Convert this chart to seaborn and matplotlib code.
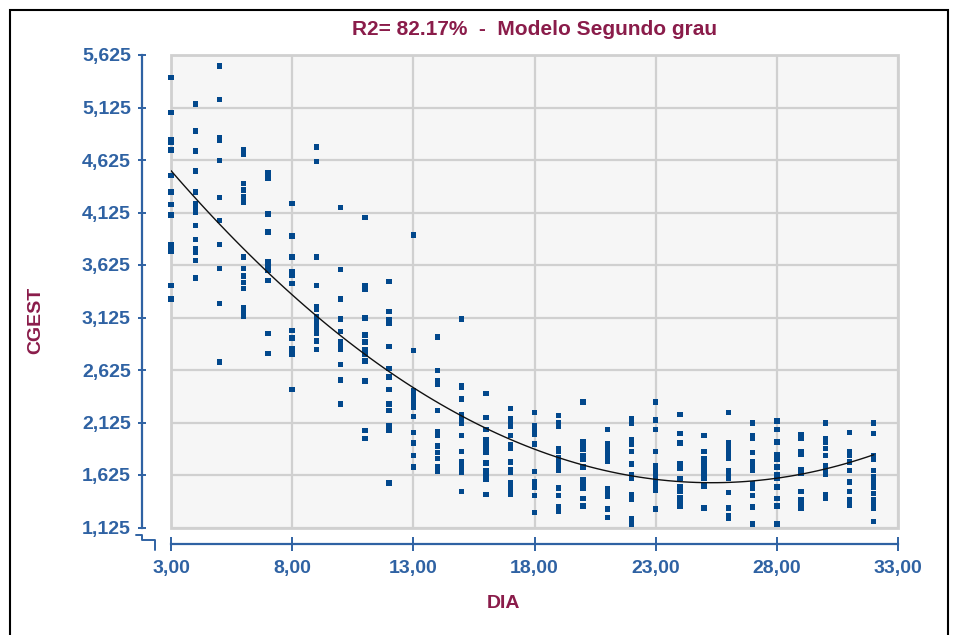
import numpy as np
import pandas as pd
import matplotlib
matplotlib.use("Agg")
import matplotlib.pyplot as plt
from matplotlib.lines import Line2D
from matplotlib.patches import Rectangle
import seaborn as sns

# ---------------- data ----------------
title_text = "R2= 82.17%  -  Modelo Segundo grau"
x_label = "DIA"
y_label = "CGEST"

x_ticks = [3, 8, 13, 18, 23, 28, 33]
x_tick_labels = ["3,00", "8,00", "13,00", "18,00", "23,00", "28,00", "33,00"]
y_ticks = [1.125, 1.625, 2.125, 2.625, 3.125, 3.625, 4.125, 4.625, 5.125, 5.625]
y_tick_labels = ["1,125", "1,625", "2,125", "2,625", "3,125", "3,625",
                 "4,125", "4,625", "5,125", "5,625"]

cgest_d03 = [5.41, 5.08, 4.82, 4.79, 4.72, 4.48, 4.32, 4.20, 4.10, 3.82, 3.79, 3.76, 3.43, 3.30]
cgest_d04 = [5.16, 4.90, 4.71, 4.52, 4.32, 4.21, 4.17, 4.13, 4.00, 3.87, 3.78, 3.75, 3.67, 3.50]
cgest_d05 = [5.52, 5.20, 4.84, 4.81, 4.62, 4.27, 4.05, 3.82, 3.59, 3.26, 2.70]
cgest_d06 = [4.72, 4.68, 4.40, 4.34, 4.28, 4.24, 4.22, 3.70, 3.59, 3.52, 3.46, 3.40, 3.22, 3.19, 3.14]
cgest_d07 = [4.50, 4.47, 4.45, 4.11, 3.94, 3.66, 3.63, 3.59, 3.57, 3.48, 2.97, 2.78]
cgest_d08 = [4.21, 3.90, 3.70, 3.56, 3.53, 3.45, 3.00, 2.93, 2.83, 2.80, 2.77, 2.44]
cgest_d09 = [4.75, 4.61, 3.70, 3.43, 3.23, 3.20, 3.13, 3.10, 3.07, 3.04, 3.01, 2.97, 2.90, 2.82]
cgest_d10 = [4.17, 3.58, 3.30, 3.11, 2.99, 2.89, 2.85, 2.82, 2.68, 2.53, 2.30]
cgest_d11 = [4.08, 3.43, 3.39, 3.12, 2.96, 2.89, 2.82, 2.77, 2.71, 2.52, 2.05, 1.97]
cgest_d12 = [3.47, 3.18, 3.10, 3.07, 2.85, 2.64, 2.56, 2.44, 2.30, 2.24, 2.09, 2.05, 1.55]
cgest_d13 = [3.91, 2.81, 2.43, 2.39, 2.36, 2.33, 2.30, 2.27, 2.18, 2.03, 1.93, 1.81, 1.70]
cgest_d14 = [2.94, 2.62, 2.52, 2.49, 2.24, 2.04, 2.00, 1.90, 1.84, 1.78, 1.70, 1.66]
cgest_d15 = [3.11, 2.48, 2.46, 2.35, 2.20, 2.16, 2.12, 2.00, 1.85, 1.75, 1.72, 1.69, 1.65, 1.47]
cgest_d16 = [2.40, 2.17, 2.06, 1.96, 1.92, 1.88, 1.84, 1.74, 1.67, 1.63, 1.58, 1.44]
cgest_d17 = [2.26, 2.16, 2.12, 2.09, 2.00, 1.91, 1.88, 1.75, 1.68, 1.65, 1.55, 1.51, 1.48, 1.44]
cgest_d18 = [2.22, 2.09, 2.05, 2.01, 1.92, 1.66, 1.56, 1.51, 1.43, 1.27]
cgest_d19 = [2.19, 2.12, 2.09, 1.88, 1.85, 1.79, 1.75, 1.71, 1.67, 1.50, 1.43, 1.32, 1.28]
cgest_d20 = [2.32, 1.94, 1.90, 1.87, 1.81, 1.77, 1.70, 1.58, 1.54, 1.50, 1.40, 1.33]
cgest_d21 = [2.06, 1.92, 1.88, 1.84, 1.79, 1.76, 1.49, 1.45, 1.42, 1.30, 1.22]
cgest_d22 = [2.16, 2.12, 1.96, 1.92, 1.85, 1.73, 1.63, 1.59, 1.44, 1.39, 1.21, 1.16]
cgest_d23 = [2.32, 2.15, 2.06, 1.85, 1.71, 1.67, 1.64, 1.59, 1.55, 1.51, 1.48, 1.30]
cgest_d24 = [2.20, 2.02, 1.93, 1.73, 1.69, 1.59, 1.51, 1.47, 1.41, 1.37, 1.33]
cgest_d25 = [2.00, 1.85, 1.78, 1.75, 1.69, 1.65, 1.62, 1.59, 1.52, 1.31]
cgest_d26 = [2.22, 1.93, 1.90, 1.86, 1.82, 1.78, 1.67, 1.64, 1.59, 1.46, 1.31, 1.24, 1.21]
cgest_d27 = [2.12, 2.00, 1.97, 1.84, 1.75, 1.71, 1.67, 1.54, 1.50, 1.43, 1.32, 1.16]
cgest_d28 = [2.14, 2.06, 1.94, 1.82, 1.77, 1.70, 1.63, 1.59, 1.51, 1.40, 1.33, 1.16]
cgest_d29 = [2.01, 1.97, 1.85, 1.82, 1.68, 1.64, 1.47, 1.39, 1.35, 1.31]
cgest_d30 = [2.12, 1.97, 1.94, 1.88, 1.81, 1.71, 1.67, 1.63, 1.44, 1.40]
cgest_d31 = [2.03, 1.85, 1.81, 1.75, 1.67, 1.56, 1.47, 1.39, 1.34]
cgest_d32 = [2.12, 2.02, 1.81, 1.77, 1.67, 1.61, 1.56, 1.51, 1.45, 1.39, 1.35, 1.31, 1.18]

days = list(range(3, 33))
day_values = [cgest_d03, cgest_d04, cgest_d05, cgest_d06, cgest_d07, cgest_d08,
              cgest_d09, cgest_d10, cgest_d11, cgest_d12, cgest_d13, cgest_d14,
              cgest_d15, cgest_d16, cgest_d17, cgest_d18, cgest_d19, cgest_d20,
              cgest_d21, cgest_d22, cgest_d23, cgest_d24, cgest_d25, cgest_d26,
              cgest_d27, cgest_d28, cgest_d29, cgest_d30, cgest_d31, cgest_d32]

df = pd.DataFrame({
    "DIA": [d for d, vals in zip(days, day_values) for _ in vals],
    "CGEST": [v for vals in day_values for v in vals],
})

# ---------------- styling ----------------
W, H = 959, 635
BLUE = "#2f62a3"
MAROON = "#8a1c4a"
POINT = "#02488c"
GRID = "#d0d0d0"
FONT = ["Liberation Sans", "DejaVu Sans"]

sns.set_theme(style="white")
plt.rcParams["font.family"] = FONT

fig = plt.figure(figsize=(W / 100, H / 100), dpi=100)
fig.patch.set_facecolor("white")

left, right, top, bottom = 171, 898, 55, 527.5
ax = fig.add_axes([left / W, 1 - bottom / H, (right - left) / W, (bottom - top) / H])
ax.set_facecolor("#f6f6f6")

sns.scatterplot(data=df, x="DIA", y="CGEST", ax=ax, marker="s", s=15,
                color=POINT, edgecolor="none", linewidth=0, zorder=4, clip_on=False)
sns.regplot(data=df, x="DIA", y="CGEST", ax=ax, order=2, ci=None, scatter=False,
            line_kws={"color": "#111111", "lw": 1.0, "zorder": 5})

ax.set_xlim(3, 33)
ax.set_ylim(1.125, 5.625)
ax.set_xticks(x_ticks)
ax.set_xticklabels(x_tick_labels)
ax.set_yticks(y_ticks)
ax.set_yticklabels(y_tick_labels)

ax.grid(True, color=GRID, lw=1.6, zorder=0)
ax.set_axisbelow(True)

# plot-area frame
ax.add_patch(Rectangle((0, 0), 1, 1, transform=ax.transAxes, fill=False,
                       ec=GRID, lw=2.0, clip_on=False, zorder=1))

for s in ["top", "right"]:
    ax.spines[s].set_visible(False)
ax.spines["left"].set_position(("outward", 29 * 0.72))
ax.spines["bottom"].set_position(("outward", 16 * 0.72))
for s in ["left", "bottom"]:
    ax.spines[s].set_color(BLUE)
    ax.spines[s].set_linewidth(1.6)

ax.tick_params(axis="y", direction="inout", length=6, width=1.4, color=BLUE,
               labelcolor=BLUE, labelsize=14, pad=5, left=True)
ax.tick_params(axis="x", direction="inout", length=10, width=1.4, color=BLUE,
               labelcolor=BLUE, labelsize=14, pad=7, bottom=True)
for lab in ax.get_xticklabels() + ax.get_yticklabels():
    lab.set_fontweight("bold")

ax.set_xlabel(x_label, color=MAROON, fontsize=14, fontweight="bold", va="center")
ax.set_ylabel(y_label, color=MAROON, fontsize=14, fontweight="bold", va="center")
ax.xaxis.set_label_coords((503 - left) / (right - left), (bottom - 603) / (bottom - top))
ax.yaxis.set_label_coords((36 - left) / (right - left), (bottom - 320) / (bottom - top))

ax.text(0.5, 1 + (top - 30) / (bottom - top), title_text, transform=ax.transAxes,
        ha="center", va="center", color=MAROON, fontsize=15, fontweight="bold")

# axis-break connector at the corner (decoration)
def px_line(xs, ys, **kw):
    fig.add_artist(Line2D([x / W for x in xs], [1 - y / H for y in ys],
                          transform=fig.transFigure, **kw))

px_line([136, 142, 142, 155, 155], [535, 535, 539.5, 539.5, 550], color=BLUE, lw=1.4)

# outer black frame
fig.add_artist(Rectangle((10 / W, -0.05), (948 - 10) / W, 1.05 - 10 / H,
                         transform=fig.transFigure, fill=False, ec="black", lw=1.5))

fig.savefig("out.png", dpi=100)
